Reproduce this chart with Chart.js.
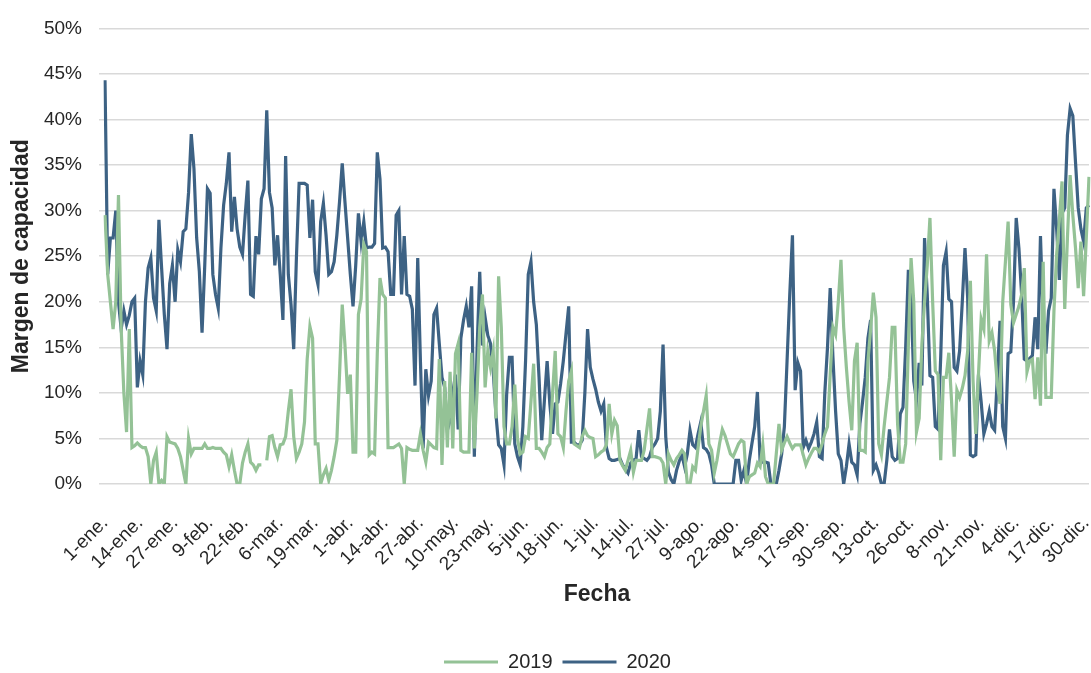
<!DOCTYPE html>
<html>
<head>
<meta charset="utf-8">
<script src="https://cdn.jsdelivr.net/npm/chart.js@4.4.1/dist/chart.umd.min.js"></script>
<style>
  body { margin: 0; background: #fff; }
  #wrap { width: 1091px; height: 673px; }
</style>
</head>
<body>
<div id="wrap"><canvas id="margen" width="1091" height="673"></canvas></div>
<script>
// one tick label every 13 days, starting on 1 January
const tickLabels = ["1-ene.", "14-ene.", "27-ene.", "9-feb.", "22-feb.", "6-mar.", "19-mar.", "1-abr.",
    "14-abr.", "27-abr.", "10-may.", "23-may.", "5-jun.", "18-jun.", "1-jul.", "14-jul.", "27-jul.",
    "9-ago.", "22-ago.", "4-sep.", "17-sep.", "30-sep.", "13-oct.", "26-oct.", "8-nov.", "21-nov.",
    "4-dic.", "17-dic.", "30-dic."];
const tickStep = 13;
const seriesNames = ["2019", "2020"];

// capacity margin (%) per day of the year; 2019 has no 29 February
const margin2019 = [
    29.5, 23, 20, 17, 20, 31.7, 17, 10, 5.7, 17,
    4, 4.2, 4.5, 4.2, 4, 4, 3, 0, 2.6, 3.5,
    0, 0.4, 0, 5.2, 4.6, 4.5, 4.4, 3.9, 3, 1.5,
    0, 5, 3.3, 3.9, 3.9, 3.9, 3.9, 4.4, 3.9, 3.9,
    4, 3.9, 3.9, 3.9, 3.5, 3.2, 1.9, 3.2, 1.5, 0,
    0, 2.3, 3.5, 4.4, 2.4, 2.1, 1.5, 2.1, 2.1, null,
    2.6, 5.2, 5.3, 4, 3, 4.3, 4.4, 5.2, 8, 10.4,
    5.2, 2.8, 3.5, 4.4, 6.8, 13.7, 17.3, 16, 4.4, 4.4,
    0, 1, 1.7, 0.4, 1.5, 3, 4.8, 12, 19.7, 15.3,
    9.9, 12, 3.5, 3.5, 18.6, 20.3, 26.3, 25.5, 3.2, 3.5,
    3.3, 14.3, 22.6, 20.8, 20.4, 4, 4, 4, 4.2, 4.4,
    3.9, 0, 4, 3.8, 3.7, 3.7, 3.7, 5.5, 3.7, 2.4,
    4.6, 4.3, 4, 3.9, 13.7, 2.1, 11.3, 4, 12.3, 3.9,
    14.3, 15.4, 3.7, 3.5, 3.5, 3.5, 14.4, 3.9, 10, 17.2,
    20.8, 10.6, 14.6, 12.8, 14.6, 7.2, 22.8, 17.2, 6.3, 4.4,
    4.4, 6.3, 10.9, 5, 3.3, 3.5, 5.2, 5, 9, 13.2,
    3.9, 3.9, 3.5, 3, 4, 4.4, 9.9, 14.6, 5.5, 5.2,
    4, 8, 11.3, 12.4, 4.4, 4.2, 4, 5.2, 5.9, 5.3,
    5.1, 5, 3, 3.2, 3.5, 3.7, 4.3, 8.8, 5.5, 7,
    6.4, 2.6, 2, 1.5, 2.6, 3.7, 1.3, 2.6, 2.6, 2.6,
    3.7, 6, 8.3, 3, 3, 2.9, 2.8, 2.3, 0, 3.3,
    2.6, 2.1, 2.8, 3.2, 3.7, 3.3, 0, 0, 1.9, 1.5,
    4, 6.3, 8, 9.7, 4.4, 3.7, 1.2, 2.6, 4.5, 6,
    5.3, 4.3, 3.3, 3, 3.7, 4.4, 4.8, 4.6, 0, 0.8,
    1, 1.2, 2.3, 1.9, 4.3, 0.8, 0, 0, 0, 3.3,
    6.6, 3.7, 4.5, 5.2, 4.5, 3.9, 4.3, 4.3, 4.3, 3.2,
    2.1, 2.8, 3.4, 3.9, 3.9, 3.5, 4.4, 5.5, 6.3, 12,
    17.2, 16.4, 20, 24.6, 17.2, 12.8, 9, 5.9, 13.5, 15.5,
    3.7, 3.7, 3.5, 13.5, 17, 21, 18.3, 4.4, 3.2, 6.3,
    9, 11.7, 17.2, 17.2, 6.6, 2.4, 2.4, 4.4, 15.3, 24.8,
    20, 5.7, 7.2, 15.3, 20, 24, 29.2, 20, 12.4, 12,
    2.6, 11.7, 11.7, 14.4, 9.2, 3, 10.3, 9.5, 10.5, 11.9,
    14.6, 22.3, 11.3, 5.5, 12, 18.1, 17, 25.2, 15.7, 16.6,
    14.6, 11, 8.8, 20, 24.4, 28.8, 19.7, 17.7, 18.6, 19.5,
    20.8, 23.7, 12.3, 13.5, 13.7, 9.3, 13.9, 8.6, 24.4, 9.5,
    9.5, 9.5, 19, 25.2, 29, 33.2, 19.2, 27, 33.9, 29.5,
    25.9, 21.5, 26.6, 20.6, 27, 33.7
];

const margin2020 = [
    44.3, 23, 27, 27, 30, 20, 17, 19, 17.5, 18.5,
    20, 20.4, 10.6, 13.5, 12, 20, 23.7, 24.8, 20.4, 19,
    29, 23.7, 18.6, 14.8, 22, 24, 20, 25.7, 24.4, 27.7,
    28, 32, 38.4, 34.6, 27, 23.3, 16.6, 24, 32.4, 31.9,
    23, 20.8, 19.3, 25.9, 30.6, 33, 36.4, 27.7, 31.5, 28,
    26, 25.2, 29.5, 33.3, 20.8, 20.6, 27.2, 25.2, 31.3, 32.4,
    41, 32, 30.3, 24, 27.3, 23, 18, 36, 23, 19.7,
    14.8, 24.8, 33, 33, 33, 32.8, 27, 31.2, 23.3, 21.9,
    28.8, 30.8, 27.3, 23, 23.3, 24.4, 27.3, 31, 35.2, 31,
    27, 23, 19.5, 24, 29.7, 26.6, 28.8, 25.9, 26, 26,
    26.4, 36.4, 33.5, 25.9, 26, 25.5, 20.8, 20.8, 29.5, 30,
    20.8, 27.2, 20.8, 20.6, 19.2, 10.8, 24.8, 13.5, 3.9, 12.6,
    9.7, 11.3, 18.6, 19.3, 15.4, 11.7, 10.6, 5.9, 7, 10,
    12, 6, 16, 18, 19.5, 17.2, 21.7, 3, 14.6, 23.3,
    15.2, 18.3, 16.3, 15.4, 12.4, 7.7, 4.3, 3.9, 2.1, 9.9,
    13.9, 13.9, 4.4, 3, 2.1, 6.3, 13.5, 23, 24.4, 20,
    17.5, 11.7, 4.8, 9.2, 13.5, 8.8, 5.5, 8.8, 9, 11,
    13.5, 16.5, 19.5, 4.6, 4.6, 4.3, 4.3, 4.8, 10, 17,
    12.8, 11.5, 10.4, 9, 8, 8.8, 4, 2.8, 2.6, 2.6,
    2.7, 2.8, 2.1, 1.6, 1.2, 2.3, 2.6, 2.8, 5.9, 3,
    2.8, 2.6, 3, 4, 4.4, 5, 8, 15.3, 5.2, 1.3,
    0.5, 0, 1.5, 2.5, 3.2, 1.9, 3.3, 5.9, 4.3, 4,
    5.5, 6.8, 4, 3.8, 3.3, 2.1, 0, 0, 0, 0,
    0, 0, 0, 0, 2.6, 2.6, 0.4, 1.5, 0, 2.6,
    4.5, 6.3, 10.1, 2.4, 2.4, 2.4, 2.3, 0, 0, 0,
    1.5, 3.3, 6.3, 13.5, 20.8, 27.3, 10.3, 13.3, 12.4, 4,
    4.8, 3.9, 4.6, 5.5, 6.8, 3, 2.8, 10, 15, 21.5,
    14, 8, 3.3, 2.6, 0, 1.9, 4.4, 2.4, 2.1, 1,
    6.6, 9, 11.7, 16, 18, 1.5, 2.1, 1.2, 0, 0,
    2.6, 6, 3, 2.6, 2.8, 7.7, 8.4, 15, 23.5, 20.8,
    11.3, 9.2, 13.3, 10.8, 27, 20.8, 11.9, 11.7, 6.3, 6,
    14, 24, 25.5, 20.3, 20, 12.8, 12.4, 14.6, 20, 25.9,
    20.4, 3.2, 3, 3.2, 12, 9, 5.5, 6.6, 8, 6.3,
    5.9, 11.7, 17.9, 6.3, 5, 14.3, 14.5, 20, 29.2, 25.9,
    20.8, 13.7, 13.5, 13.8, 14.1, 18.3, 14.8, 27.2, 17.9, 14.3,
    19, 20.4, 32.4, 28, 22.4, 29.7, 30.3, 38.3, 41.2, 40.4,
    35.3, 30.3, 28, 26.6, 30.3, 30.6
];

const days = margin2020.map((_, i) => i);

const font = "'Liberation Sans', Arial, sans-serif";
const textColor = "#262626";

new Chart("margen", {
    type: "line",
    data: {
        labels: days,
        datasets: [
            {
                label: seriesNames[0],
                data: margin2019,
                borderColor: "#94c296",
                backgroundColor: "#94c296",
                borderWidth: 3.2,
                pointRadius: 0,
                spanGaps: false,
            },
            {
                label: seriesNames[1],
                data: margin2020,
                borderColor: "#3d6284",
                backgroundColor: "#3d6284",
                borderWidth: 3.2,
                pointRadius: 0,
            },
        ],
    },
    options: {
        responsive: false,
        animation: false,
        // left padding only shifts the legend; the y axis keeps the chart area at x = 105
        layout: { padding: { top: 25, right: 2, left: 26, bottom: -9 } },
        plugins: {
            legend: {
                position: "bottom",
                labels: {
                    boxWidth: 54,
                    boxHeight: 0,
                    padding: 10,
                    color: textColor,
                    font: { family: font, size: 20 },
                },
            },
            tooltip: { enabled: false },
        },
        scales: {
            x: {
                grid: { display: false },
                border: { display: false },
                ticks: {
                    autoSkip: false,
                    minRotation: 45,
                    maxRotation: 45,
                    padding: 20,
                    color: textColor,
                    font: { family: font, size: 19 },
                    callback: (v, i) => (i % tickStep === 0 ? tickLabels[i / tickStep] : ""),
                },
                title: {
                    display: true,
                    text: "Fecha",
                    color: textColor,
                    font: { family: font, size: 23, weight: "bold" },
                    padding: { top: 0, bottom: 34 },
                },
                afterFit: (s) => {
                    s.height = 158;
                    s.paddingLeft = 0;
                    s.paddingRight = 0;
                },
            },
            y: {
                min: 0,
                max: 50,
                ticks: {
                    stepSize: 5,
                    padding: 17,
                    color: textColor,
                    font: { family: font, size: 19 },
                    callback: (v) => v + "%",
                },
                grid: { color: "#d9d9d9", lineWidth: 1.5, tickLength: 6 },
                border: { display: false },
                title: {
                    display: true,
                    text: "Margen de capacidad",
                    color: textColor,
                    font: { family: font, size: 23, weight: "bold" },
                    padding: { top: -18, bottom: 0 },
                },
                afterFit: (s) => { s.width = 79; },
            },
        },
    },
});
</script>
</body>
</html>
